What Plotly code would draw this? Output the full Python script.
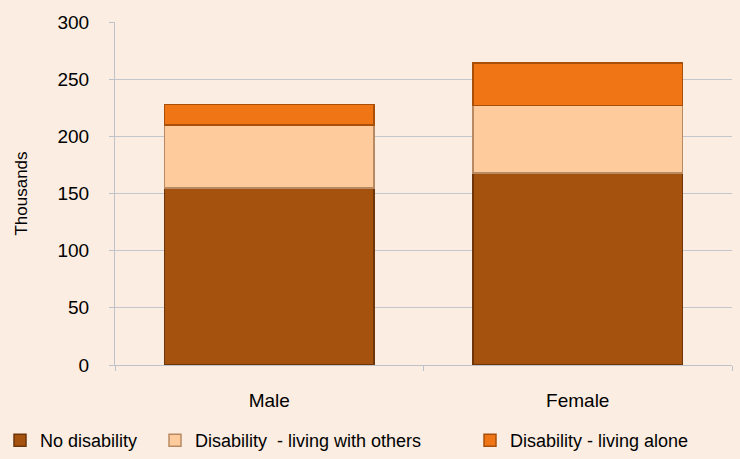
import plotly.graph_objects as go

categories = ["Male", "Female"]
no_disability = [155, 168]
disability_with_others = [55, 59]
disability_alone = [18, 37]

series_names = ["No disability", "Disability  - living with others", "Disability - living alone"]
series_colors = ["#A5520F", "#FDCB9C", "#F07615"]
series_lines = ["#6E3508", "#B98A62", "#A84F0A"]
y_ticks = [0, 50, 100, 150, 200, 250, 300]

FONT = "Liberation Sans, Arial, sans-serif"
W, H = 740, 459
legend_px = [-11, 155, 470]  # left position of each legend entry box in pixels

fig = go.Figure()
legend_ids = ["legend", "legend2", "legend3"]
for name, vals, col, lc, lid in zip(series_names,
                                    [no_disability, disability_with_others, disability_alone],
                                    series_colors, series_lines, legend_ids):
    fig.add_trace(go.Bar(x=categories, y=vals, name=name, legend=lid,
                         marker=dict(color=col, line=dict(color=lc, width=1.5))))

legend_common = dict(orientation="h", xref="container", yref="container",
                     y=0.04, xanchor="left", yanchor="middle",
                     font=dict(size=18), itemwidth=30, bgcolor="rgba(0,0,0,0)")

fig.update_layout(
    barmode="stack",
    bargap=0.32,
    width=W, height=H,
    margin=dict(l=115, r=8, t=22, b=94),
    paper_bgcolor="#FBEDE2",
    plot_bgcolor="rgba(0,0,0,0)",
    font=dict(family=FONT, size=19, color="#000000"),
    showlegend=True,
    legend=dict(legend_common, x=legend_px[0] / W),
    legend2=dict(legend_common, x=legend_px[1] / W),
    legend3=dict(legend_common, x=legend_px[2] / W),
    yaxis=dict(range=[0, 300], tickvals=y_ticks, showgrid=True,
               gridcolor="#C3C6CC", gridwidth=1, showline=True, linecolor="#BFC2C8",
               linewidth=1, ticks="outside", ticklen=5, tickcolor="#BFC2C8",
               ticklabelstandoff=16,
               title=dict(text="Thousands", font=dict(size=17), standoff=25),
               zeroline=False),
    xaxis=dict(showline=True, linecolor="#BFC2C8", linewidth=1, ticks="outside",
               ticklen=5, tickcolor="#BFC2C8", tickson="boundaries", showgrid=False,
               ticklabelstandoff=18),
)

fig.write_html("out.html", config={"displayModeBar": False},
               post_script="document.body.style.margin='0';")
